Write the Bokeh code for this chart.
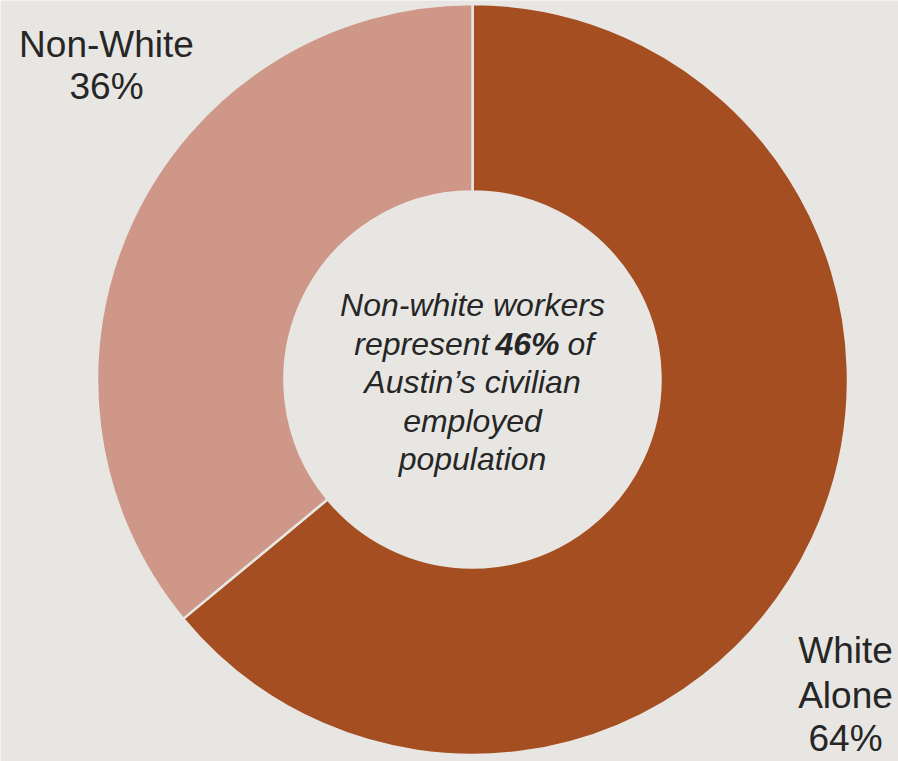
import numpy as np
from bokeh.plotting import figure
from bokeh.models import ColumnDataSource
from bokeh.core.properties import value
from bokeh.embed import file_html
from bokeh.resources import INLINE

# ---- data ----
categories = ["White Alone", "Non-White"]
shares = [64, 36]
colors = ["#A44E21", "#CE9788"]
label_lines = [["White", "Alone", "64%"], ["Non-White", "36%"]]
center_lines = ["Non-white workers", "represent 46% of", "Austin\u2019s civilian", "employed", "population"]

W, H = 898, 761
BG = "#E8E6E3"
TXT = "#262626"

p = figure(width=W, height=H, x_range=(0, W), y_range=(0, H),
           output_backend="svg", toolbar_location=None, min_border=0)
p.axis.visible = False
p.grid.visible = False
p.outline_line_color = None
p.background_fill_color = BG
p.border_fill_color = BG

cx, cy = 472, H - 379
frac = np.array(shares, dtype=float) / sum(shares)
# White Alone drawn clockwise from 12 o'clock, Non-White fills the rest
ends = [np.pi / 2, np.pi / 2 + 2 * np.pi * frac[1]]
starts = [np.pi / 2 - 2 * np.pi * frac[0], np.pi / 2]
src = ColumnDataSource(dict(x=[cx, cx], y=[cy, cy], start=starts, end=ends,
                            color=colors, cat=categories))
p.annular_wedge(x="x", y="y", inner_radius=188, outer_radius=375.5,
                start_angle="start", end_angle="end", fill_color="color",
                line_color=BG, line_width=2.5, source=src)

font = value("Liberation Sans")

LS = 37
CS = 32
lab_shift = 0.39 * LS
cen_shift = 0.39 * CS

# outer labels
lab_pos = [(845, [664, 709, 752]), (106, [58, 100])]
for (lx, ys), lines in zip(lab_pos, label_lines):
    p.text(x=[lx] * len(lines), y=[H - v + lab_shift for v in ys], text=lines,
           text_font=font, text_font_size=f"{LS}px", text_color=TXT,
           text_align="center", text_baseline="alphabetic")

# center annotation
ys = [H - v + cen_shift for v in [317, 355.5, 394, 432.5, 471]]
for i, line in enumerate(center_lines):
    if i == 1:
        continue
    p.text(x=[472], y=[ys[i]], text=[line], text_font=font, text_font_size=f"{CS}px",
           text_font_style="italic", text_color=TXT, text_align="center",
           text_baseline="alphabetic")
parts = center_lines[1].split(" ")  # represent, 46%, of
p.text(x=[489], y=[ys[1]], text=[parts[0]], text_font=font, text_font_size=f"{CS}px",
       text_font_style="italic", text_color=TXT, text_align="right", text_baseline="alphabetic")
p.text(x=[495], y=[ys[1]], text=[parts[1]], text_font=font, text_font_size=f"{CS}px",
       text_font_style="bold italic", text_color=TXT, text_align="left", text_baseline="alphabetic")
p.text(x=[567], y=[ys[1]], text=[parts[2]], text_font=font, text_font_size=f"{CS}px",
       text_font_style="italic", text_color=TXT, text_align="left", text_baseline="alphabetic")

open("out.html", "w").write(file_html(p, INLINE))
